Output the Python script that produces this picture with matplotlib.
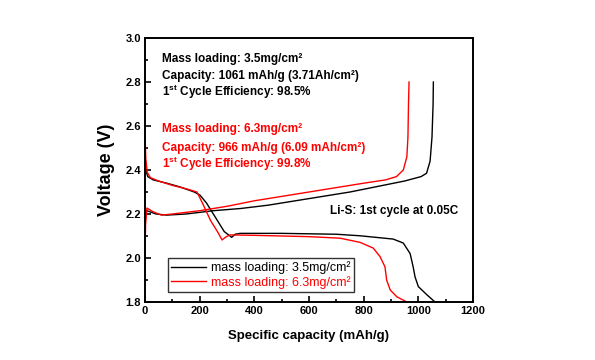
import matplotlib
matplotlib.use("Agg")
import matplotlib.pyplot as plt
from matplotlib.ticker import MultipleLocator, FormatStrFormatter

plt.rcParams['font.family'] = ['Liberation Sans', 'DejaVu Sans']
plt.rcParams['mathtext.fontset'] = 'custom'
plt.rcParams['mathtext.bf'] = 'Liberation Sans:bold'
plt.rcParams['mathtext.rm'] = 'Liberation Sans:bold'

# Discharge curves
dis35_x = [0, 3, 10, 30, 80, 128, 180, 201, 225, 260, 290, 317, 330, 348, 500, 700, 787, 908, 945, 970, 981, 988, 1000, 1032, 1061]
dis35_y = [2.48, 2.40, 2.37, 2.355, 2.34, 2.323, 2.30, 2.286, 2.25, 2.18, 2.12, 2.094, 2.108, 2.112, 2.112, 2.108, 2.101, 2.086, 2.068, 2.02, 1.96, 1.914, 1.87, 1.832, 1.80]
dis63_x = [0, 3, 8, 20, 50, 100, 150, 190, 210, 240, 265, 282, 295, 311, 400, 500, 600, 714, 787, 835, 860, 878, 884, 897, 921, 958, 966]
dis63_y = [2.56, 2.45, 2.39, 2.365, 2.35, 2.33, 2.315, 2.30, 2.25, 2.17, 2.12, 2.082, 2.095, 2.105, 2.103, 2.10, 2.097, 2.09, 2.071, 2.045, 2.006, 1.96, 1.90, 1.855, 1.824, 1.80, 1.795]

# Charge curves
chg35_x = [0, 2, 7, 40, 80, 150, 250, 350, 450, 550, 650, 750, 850, 950, 1010, 1030, 1043, 1050, 1054, 1055]
chg35_y = [2.17, 2.20, 2.215, 2.20, 2.195, 2.20, 2.215, 2.225, 2.24, 2.26, 2.28, 2.30, 2.325, 2.35, 2.37, 2.385, 2.44, 2.55, 2.70, 2.80]
chg63_x = [0, 2, 7, 30, 60, 100, 200, 300, 400, 500, 600, 700, 800, 880, 920, 945, 958, 962, 964, 966]
chg63_y = [1.99, 2.15, 2.227, 2.21, 2.195, 2.20, 2.215, 2.235, 2.26, 2.28, 2.30, 2.32, 2.34, 2.355, 2.37, 2.40, 2.46, 2.55, 2.70, 2.80]

labels = ["mass loading: 3.5mg/cm\u00b2", "mass loading: 6.3mg/cm\u00b2"]

fig = plt.figure(figsize=(5.95, 3.6), dpi=100)
ax = fig.add_axes([145/595, 1 - 302/360, 328/595, 264/360])

l1, = ax.plot(dis35_x, dis35_y, color='black', lw=1.0)
ax.plot(chg35_x, chg35_y, color='black', lw=1.0)
l2, = ax.plot(dis63_x, dis63_y, color='red', lw=1.0)
ax.plot(chg63_x, chg63_y, color='red', lw=1.0)

ax.set_xlim(0, 1200)
ax.set_ylim(1.8, 3.0)
ax.xaxis.set_major_locator(MultipleLocator(200))
ax.xaxis.set_minor_locator(MultipleLocator(100))
ax.yaxis.set_major_locator(MultipleLocator(0.2))
ax.yaxis.set_minor_locator(MultipleLocator(0.1))
ax.yaxis.set_major_formatter(FormatStrFormatter('%.1f'))
ax.tick_params(which='both', direction='in', width=1.2, labelsize=8)
ax.tick_params(which='major', length=4, pad=3)
ax.tick_params(which='minor', length=2)
for lab in ax.get_xticklabels() + ax.get_yticklabels():
    lab.set_fontweight('bold')
for s in ax.spines.values():
    s.set_linewidth(1.4)

ax.set_xlabel("Specific capacity (mAh/g)", fontsize=9.5, fontweight='bold', labelpad=10)
ax.set_ylabel("Voltage (V)", fontsize=13, fontweight='bold', labelpad=7)

tx = 0.052
fs = 8.5
ax.text(tx, 0.909, "Mass loading: 3.5mg/cm\u00b2", transform=ax.transAxes, fontsize=fs, fontweight='bold', color='black', va='baseline')
ax.text(tx, 0.844, "Capacity: 1061 mAh/g (3.71Ah/cm\u00b2)", transform=ax.transAxes, fontsize=fs, fontweight='bold', color='black', va='baseline')
ax.text(tx, 0.779, r"1$^{\mathbf{st}}$ Cycle Efficiency: 98.5%", transform=ax.transAxes, fontsize=fs, fontweight='bold', color='black', va='baseline')
ax.text(tx, 0.645, "Mass loading: 6.3mg/cm\u00b2", transform=ax.transAxes, fontsize=fs, fontweight='bold', color='red', va='baseline')
ax.text(tx, 0.573, "Capacity: 966 mAh/g (6.09 mAh/cm\u00b2)", transform=ax.transAxes, fontsize=fs, fontweight='bold', color='red', va='baseline')
ax.text(tx, 0.506, r"1$^{\mathbf{st}}$ Cycle Efficiency: 99.8%", transform=ax.transAxes, fontsize=fs, fontweight='bold', color='red', va='baseline')
ax.text(0.564, 0.332, "Li-S: 1st cycle at 0.05C", transform=ax.transAxes, fontsize=fs, fontweight='bold', color='black', va='baseline')

leg = ax.legend([l1, l2], labels, loc='lower left', bbox_to_anchor=(0.07, 0.038), fontsize=9,
                frameon=True, fancybox=False, edgecolor='black', handlelength=2.8,
                borderaxespad=0, borderpad=0.25, labelspacing=0.15, handletextpad=0.4)
leg.get_frame().set_linewidth(1.0)
for t, c in zip(leg.get_texts(), ['black', 'red']):
    t.set_color(c)

fig.savefig("out.png", dpi=100)
